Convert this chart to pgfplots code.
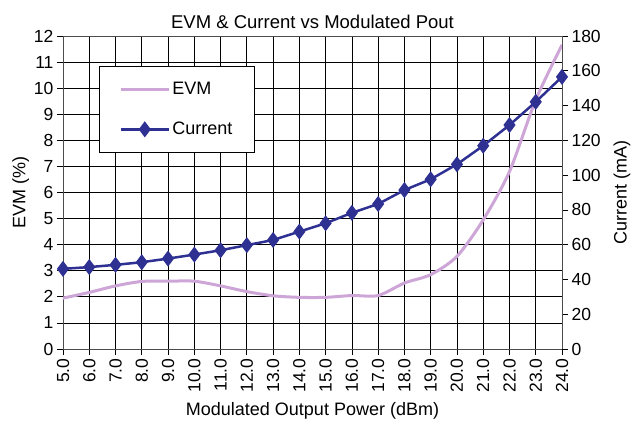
\documentclass[border=0pt]{standalone}
\usepackage{fontspec}
\setmainfont{Liberation Sans}
\usepackage{pgfplots}
\pgfplotsset{compat=1.18}
\definecolor{evmc}{RGB}{205,165,215}
\definecolor{curc}{RGB}{46,49,146}
\begin{document}
\begin{tikzpicture}
\begin{axis}[
  at={(0,0)}, anchor=south west,
  scale only axis, width=499pt, height=313pt,
  xmin=5, xmax=24, ymin=0, ymax=12,
  xtick={5,6,...,24}, ytick={0,1,...,12},
  xtick pos=bottom, ytick pos=left, tick align=outside,
  major tick length=6pt,
  grid=major, major grid style={black, line width=0.7pt},
  axis line style={black!70, line width=0.8pt},
  tick style={black, line width=0.7pt},
  /pgf/number format/assume math mode=true,
  x tick label style={rotate=90, anchor=east, font=\fontsize{17.5}{17.5}\selectfont, /pgf/number format/.cd, fixed, fixed zerofill, precision=1},
  y tick label style={font=\fontsize{17.5}{17.5}\selectfont},
  xlabel={Modulated Output Power (dBm)},
  ylabel={EVM (\%)},
  xlabel style={font=\fontsize{18}{18}\selectfont, yshift=-3pt},
  ylabel style={font=\fontsize{18}{18}\selectfont, yshift=-2pt},
  title={EVM \& Current vs Modulated Pout},
  title style={font=\fontsize{18.5}{18.5}\selectfont, yshift=-2pt},
  legend style={at={(0.072,0.904)}, anchor=north west, draw=black, line width=0.7pt, fill=white,
    font=\fontsize{18}{18}\selectfont, inner xsep=20pt, inner ysep=14pt, row sep=22pt},
  legend cell align=left,
  legend image code/.code={\draw[#1, mark repeat=2, mark phase=2] plot coordinates {(0pt,0pt) (24pt,0pt) (48pt,0pt)};},
]
\addplot[evmc, line width=3pt, smooth, tension=0.45, no marks] coordinates {
(5,1.95) (6,2.17) (7,2.42) (8,2.59) (9,2.6) (10,2.6) (11,2.42) (12,2.2) (13,2.04) (14,1.98) (15,1.98) (16,2.05) (17,2.05) (18,2.53) (19,2.85) (20,3.55) (21,4.95) (22,6.8) (23,9.55) (24,11.66)
};
\addlegendentry{EVM}
\addlegendimage{curc, line width=2.5pt, mark=diamond*, mark size=6pt}
\addlegendentry{Current}
\end{axis}
\begin{axis}[
  at={(0,0)}, anchor=south west,
  scale only axis, width=499pt, height=313pt,
  xmin=5, xmax=24, ymin=0, ymax=180,
  ytick={0,20,...,180},
  axis x line=none, axis y line*=right, tick align=outside,
  major tick length=6pt,
  axis line style={black!70, line width=0.8pt},
  tick style={black, line width=0.7pt},
  /pgf/number format/assume math mode=true,
  y tick label style={font=\fontsize{17.5}{17.5}\selectfont},
  ylabel={Current (mA)},
  ylabel style={font=\fontsize{18}{18}\selectfont, yshift=-6pt},
  clip=false,
]
\addplot[curc, line width=2.5pt, mark=diamond*, mark size=6pt] coordinates {
(5,46.1) (6,47.1) (7,48.4) (8,49.9) (9,52) (10,54.3) (11,56.8) (12,59.7) (13,62.7) (14,67.5) (15,72.3) (16,78.3) (17,83.4) (18,91.4) (19,97.6) (20,106.2) (21,116.9) (22,128.8) (23,142.1) (24,156.5)
};
\end{axis}
\pgfresetboundingbox
\path (-63pt,-85pt) rectangle (569pt,349pt);
\end{tikzpicture}
\end{document}
